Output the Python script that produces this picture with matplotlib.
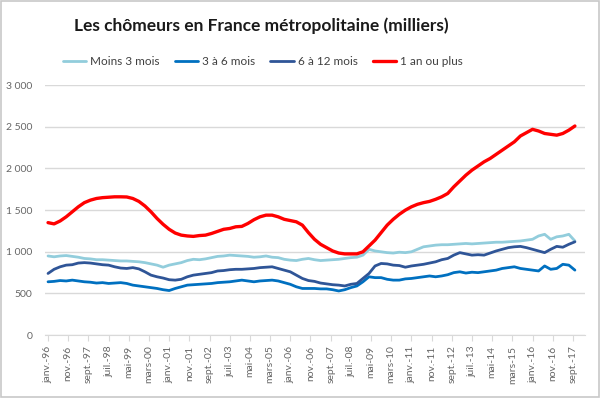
import matplotlib.pyplot as plt
import matplotlib.ticker as mticker
from matplotlib.patches import Rectangle
import numpy as np

# quarterly readings (janv, avr, juil, oct) from janv-96 to oct-17, in thousands
months = np.arange(0, 262, 3)

moins_3 = [950, 940, 950, 955, 945, 935, 920, 915, 905, 905, 900, 895, 890, 890, 885, 880,
           870, 855, 840, 815, 840, 855, 870, 895, 910, 905, 915, 930, 945, 950, 960, 955,
           950, 945, 935, 940, 950, 935, 930, 910, 900, 895, 910, 920, 905, 895, 900, 905,
           910, 920, 930, 935, 960, 1030, 1010, 1000, 990, 985, 995, 990, 1000, 1030, 1060, 1070,
           1080, 1085, 1085, 1090, 1095, 1100, 1095, 1100, 1105, 1110, 1115, 1115, 1120, 1125, 1130, 1140,
           1150, 1190, 1210, 1150, 1180, 1190, 1210, 1130]

de_3_a_6 = [640, 645, 655, 650, 660, 650, 640, 635, 625, 630, 620, 625, 630, 620, 600, 590,
            580, 570, 560, 545, 535, 560, 580, 600, 605, 610, 615, 620, 630, 635, 640, 650,
            660, 650, 640, 650, 655, 660, 650, 630, 610, 580, 560, 560, 560, 555, 555, 545,
            530, 545, 570, 590, 640, 700, 690, 690, 670, 660, 660, 675, 680, 690, 700, 710,
            700, 710, 725, 750, 760, 745, 755, 750, 760, 770, 780, 800, 810, 820, 800, 790,
            780, 770, 830, 790, 800, 850, 840, 780]

de_6_a_12 = [740, 790, 820, 840, 845, 865, 870, 865, 855, 845, 840, 820, 805, 800, 810, 795,
             760, 720, 700, 685, 665, 660, 670, 700, 720, 730, 740, 750, 770, 775, 785, 790,
             790, 795, 800, 810, 815, 820, 800, 780, 760, 720, 680, 655, 645, 625, 615, 605,
             600, 590, 610, 620, 680, 740, 830, 860, 855, 840, 835, 815, 830, 840, 850, 865,
             880, 905, 920, 960, 990, 975, 960, 965, 960, 985, 1010, 1030, 1050, 1060, 1065, 1050,
             1030, 1010, 990, 1030, 1065, 1055, 1090, 1120]

un_an_plus = [1350, 1335, 1370, 1420, 1480, 1540, 1590, 1620, 1640, 1650, 1655, 1660, 1660, 1658, 1640, 1605,
              1550, 1480, 1400, 1330, 1270, 1225, 1200, 1190, 1185, 1195, 1200, 1220, 1245, 1270, 1280, 1300,
              1305, 1340, 1385, 1420, 1440, 1440, 1420, 1390, 1375, 1360, 1320, 1230, 1150, 1090, 1050, 1010,
              985, 975, 975, 975, 1000, 1070, 1140, 1230, 1320, 1390, 1450, 1500, 1540, 1570, 1590, 1605,
              1630, 1660, 1700, 1780, 1850, 1920, 1980, 2030, 2080, 2120, 2170, 2220, 2270, 2320, 2390, 2430,
              2470, 2450, 2420, 2410, 2400, 2420, 2460, 2510]

series_names = ["Moins 3 mois", "3 à 6 mois", "6 à 12 mois", "1 an ou plus"]
tick_months = np.arange(0, 261, 10)
tick_labels = ["janv.-96", "nov.-96", "sept.-97", "juil.-98", "mai-99", "mars-00", "janv.-01",
               "nov.-01", "sept.-02", "juil.-03", "mai-04", "mars-05", "janv.-06", "nov.-06",
               "sept.-07", "juil.-08", "mai-09", "mars-10", "janv.-11", "nov.-11", "sept.-12",
               "juil.-13", "mai-14", "mars-15", "janv.-16", "nov.-16", "sept.-17"]

plt.rcParams['font.family'] = ['Lato', 'DejaVu Sans']

fig = plt.figure(figsize=(6, 3.98), dpi=100)
ax = fig.add_axes([0.075, 0.158, 0.9, 0.628])

colors = ['#92cddc', '#0070c0', '#2f5597', '#ff0000']
widths = [2.0, 2.0, 2.0, 2.4]
for vals, name, c, w in zip([moins_3, de_3_a_6, de_6_a_12, un_an_plus], series_names, colors, widths):
    ax.plot(months, vals, color=c, lw=w, label=name, solid_capstyle='round')

ax.set_ylim(0, 3000)
ax.set_xlim(-1.5, 266)
ax.yaxis.set_major_locator(mticker.MultipleLocator(500))
ax.yaxis.set_major_formatter(mticker.FuncFormatter(lambda v, p: f"{int(v):,}".replace(",", " ")))
ax.grid(axis='y', color='#d9d9d9', lw=1)
ax.set_axisbelow(True)
for s in ['top', 'right', 'left']:
    ax.spines[s].set_visible(False)
ax.spines['bottom'].set_color('#d9d9d9')
ax.tick_params(axis='y', length=0, labelsize=7.5, labelcolor='#666666', pad=9)
ax.set_xticks(tick_months)
ax.set_xticklabels(tick_labels, rotation=90)
ax.tick_params(axis='x', length=4, color='#d9d9d9', labelsize=7.5, labelcolor='#666666')

fig.text(0.435, 0.935, "Les chômeurs en France métropolitaine (milliers)", ha='center', va='center',
         fontsize=12.5, fontweight='bold', color='#1a1a1a')
fig.legend(loc='center', bbox_to_anchor=(0.438, 0.845), ncol=4, frameon=False, fontsize=8.5,
           handlelength=2.0, handletextpad=0.3, columnspacing=1.3, labelcolor='#404040')

fig.patches.append(Rectangle((0.002, 0.002), 0.996, 0.996, transform=fig.transFigure,
                             fill=False, edgecolor='#c8c8c8', lw=1.2))

fig.savefig('out.png', dpi=100)
